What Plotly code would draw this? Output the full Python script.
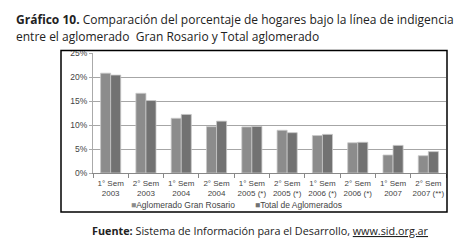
import plotly.graph_objects as go

categories = ["1° Sem<br>2003", "2° Sem<br>2003", "1° Sem<br>2004", "2° Sem<br>2004",
              "1° Sem<br>2005 (*)", "2° Sem<br>2005 (*)", "1° Sem<br>2006 (*)",
              "2° Sem<br>2006 (*)", "1° Sem<br>2007", "2° Sem<br>2007 (**)"]
rosario = [20.8, 16.6, 11.4, 9.65, 9.6, 8.9, 7.8, 6.3, 3.75, 3.6]
total = [20.4, 15.1, 12.2, 10.8, 9.7, 8.4, 8.05, 6.4, 5.75, 4.45]
y_ticks = [0, 5, 10, 15, 20, 25]
y_labels = ["0%", "5%", "10%", "15%", "20%", "25%"]
series_names = ["Aglomerado Gran Rosario", "Total de Aglomerados"]
colors = ["#8c8c8c", "#727272"]

W, H = 463, 240
L, R, T, B = 85, 25, 45, 75
pw = W - L - R
ph = H - T - B

def px(x):
    return (x - L) / pw

def py(y):
    return 1 - (y - T) / ph

fig = go.Figure()
for name, vals, col in zip(series_names, [rosario, total], colors):
    fig.add_trace(go.Bar(x=categories, y=vals, name=name,
                         marker=dict(color=col, line=dict(color="#c8c8c8", width=0.8))))

fig.update_layout(
    width=W, height=H,
    margin=dict(l=L, r=R, t=T, b=B),
    paper_bgcolor="white", plot_bgcolor="white",
    barmode="group", bargap=0.43, bargroupgap=0,
    font=dict(family="Liberation Sans, Arial", size=9, color="#444"),
    showlegend=False,
)
fig.update_xaxes(showgrid=False, showline=True, linecolor="#888", linewidth=1,
                 ticks="outside", tickson="boundaries", ticklen=4, tickcolor="#888",
                 ticklabelstandoff=2,
                 tickangle=0, tickfont=dict(size=8, color="#444"))
fig.update_yaxes(range=[0, 25], tickvals=y_ticks, ticktext=y_labels,
                 showgrid=True, gridcolor="#a6a6a6", gridwidth=1,
                 showline=True, linecolor="#aaa", linewidth=1, zeroline=False,
                 ticks="outside", ticklen=3, tickcolor="#aaa",
                 tickfont=dict(size=8.5, color="#444"))

# legend drawn as text with coloured squares
leg_x = [121, 245]
for name, col, lx in zip(series_names, colors, leg_x):
    fig.add_annotation(xref="paper", yref="paper", x=px(lx), y=py(196.5),
                       xanchor="left", yanchor="middle", showarrow=False,
                       font=dict(family="Liberation Sans, Arial", size=8.5, color="#444"),
                       text=f'<span style="color:{col}">■</span>{name}')

# outer box
fig.add_shape(type="rect", xref="paper", yref="paper",
              x0=px(53), x1=px(439), y0=py(204), y1=py(42.5),
              line=dict(color="black", width=1.5), fillcolor="rgba(0,0,0,0)", layer="above")

title_font = dict(family="Open Sans, Noto Sans", size=12, color="#222")
fig.add_annotation(xref="paper", yref="paper", x=px(6), y=py(11), xanchor="left", yanchor="middle",
                   showarrow=False, font=title_font,
                   text="<b>Gráfico 10.</b> Comparación del porcentaje de hogares bajo la línea de indigencia")
fig.add_annotation(xref="paper", yref="paper", x=px(6), y=py(28), xanchor="left", yanchor="middle",
                   showarrow=False, font=title_font,
                   text="entre el aglomerado  Gran Rosario y Total aglomerado")
fig.add_annotation(xref="paper", yref="paper", x=px(82), y=py(222), xanchor="left", yanchor="middle",
                   showarrow=False, font=dict(family="Open Sans, Noto Sans", size=10.8, color="#222"),
                   text="<b>Fuente:</b> Sistema de Información para el Desarrollo, <u>www.sid.org.ar</u>")

fig.write_html("out.html")
